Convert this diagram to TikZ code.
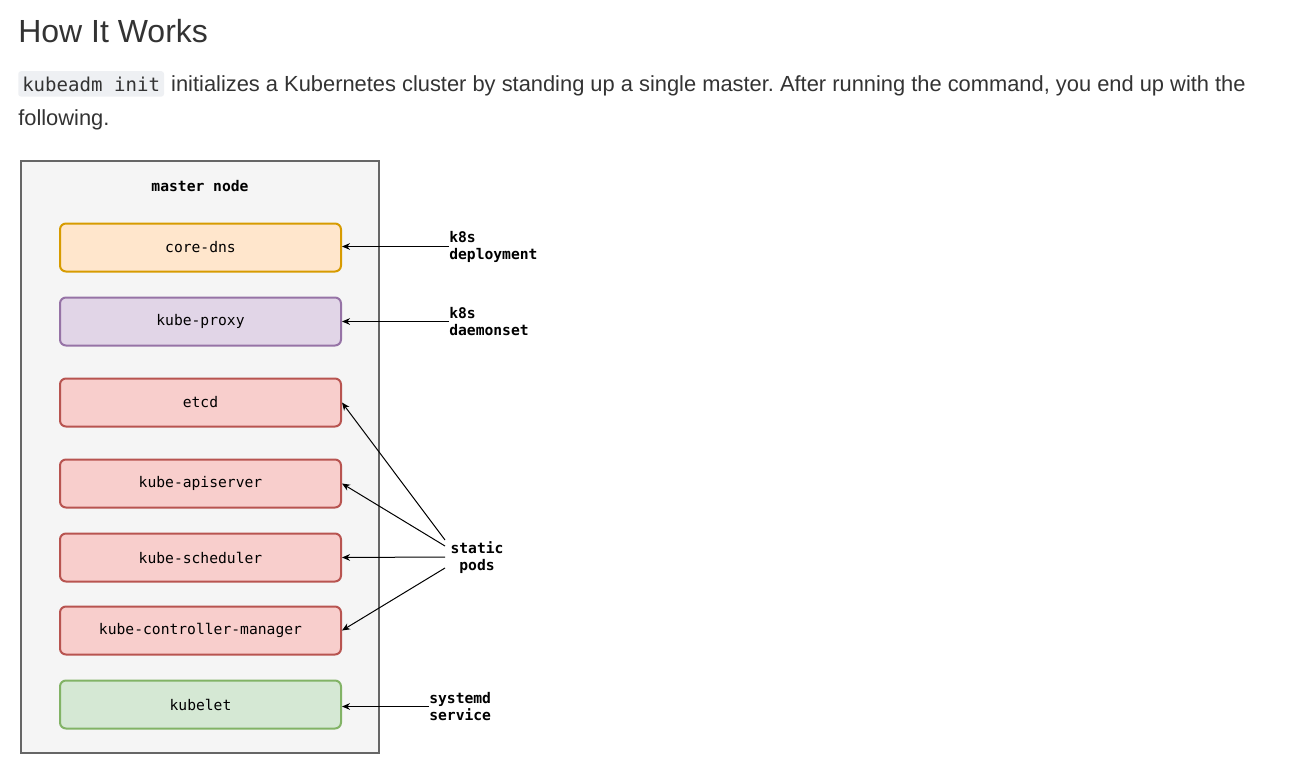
\documentclass[tikz,border=0pt]{standalone}
\usepackage{fontspec}
\setmainfont{Liberation Sans}
\setmonofont{DejaVu Sans Mono}
\usetikzlibrary{positioning,arrows.meta}
\frenchspacing

\definecolor{txt}{HTML}{333333}
\definecolor{codebg}{HTML}{EEF0F3}
\definecolor{hostfill}{HTML}{F5F5F5}
\definecolor{hostdraw}{HTML}{666666}
\definecolor{dnsfill}{HTML}{FFE6CC}
\definecolor{dnsdraw}{HTML}{D79B00}
\definecolor{proxyfill}{HTML}{E1D5E7}
\definecolor{proxydraw}{HTML}{9673A6}
\definecolor{podfill}{HTML}{F8CECC}
\definecolor{poddraw}{HTML}{B85450}
\definecolor{letfill}{HTML}{D5E8D4}
\definecolor{letdraw}{HTML}{82B366}

\tikzset{
  comp/.style={draw, rounded corners=4.5pt, line width=1.5pt,
    minimum width=210.75pt, minimum height=36pt,
    font=\fontsize{11}{13}\selectfont\ttfamily},
  lbl/.style={align=left, inner sep=0pt,
    font=\fontsize{11}{12.75}\selectfont\ttfamily\bfseries},
  feed/.style={-{Stealth[length=6pt,width=5pt]}, line width=0.75pt},
}

\begin{document}
\begin{tikzpicture}[x=0.75pt,y=-0.75pt]
  \useasboundingbox (0,0) rectangle (1293,782);
  % page text
  \node[anchor=base west, inner sep=0pt, text=txt, font=\fontsize{24}{28}\selectfont] (title) at (18,42) {How It Works};
  \node[anchor=base west, fill=codebg, rounded corners=2pt, inner xsep=3pt, inner ysep=4pt, text=txt,
    font=\fontsize{14.3}{17}\selectfont\ttfamily] (cmd) at (18,91) {kubeadm init};
  \node[anchor=base west, inner sep=0pt, text=txt, font=\fontsize{16.4}{19}\selectfont] (para)
    at ([xshift=5pt]cmd.base east) {initializes a Kubernetes cluster by standing up a single master. After running the command, you end up with the};
  \node[anchor=base west, inner sep=0pt, text=txt, font=\fontsize{16.4}{19}\selectfont] (para2)
    at (18,125) {following.};

  % master node
  \node[draw=hostdraw, fill=hostfill, line width=1.5pt, minimum width=268.5pt, minimum height=444pt] (master) at (200,457) {};
  \node[lbl, align=center] (mlabel) at (200,186) {master node};

  \node[comp, fill=dnsfill, draw=dnsdraw] (dns) at (200.5,247.5) {core-dns};
  \node[comp, fill=proxyfill, draw=proxydraw, below=18pt of dns] (proxy) {kube-proxy};
  \node[comp, fill=podfill, draw=poddraw, below=23.25pt of proxy] (etcd) {etcd};
  \node[comp, fill=podfill, draw=poddraw, below=23.25pt of etcd] (api) {kube-apiserver};
  \node[comp, fill=podfill, draw=poddraw, below=18pt of api] (sched) {kube-scheduler};
  \node[comp, fill=podfill, draw=poddraw, below=17.25pt of sched] (cm) {kube-controller-manager};
  \node[comp, fill=letfill, draw=letdraw, below=18pt of cm] (kubelet) {kubelet};

  % sources
  \node[lbl, anchor=west] (deploy) at (449,246.5) {k8s\\deployment};
  \node[lbl, anchor=west] (daemon) at (449,321.5) {k8s\\daemonset};
  \node[lbl, align=center] (static) at (477,558) {static\\pods};
  \node[lbl, anchor=west] (systemd) at (429,706.5) {systemd\\service};

  \coordinate (s1) at (445,540);
  \coordinate (s2) at (445,546);
  \coordinate (s3) at (445,557);
  \coordinate (s4) at (445,568);

  \draw[feed] (deploy.west) -- (deploy.west -| dns.east);
  \draw[feed] (daemon.west) -- (daemon.west -| proxy.east);
  \draw[feed] (s1) -- (etcd.east);
  \draw[feed] (s2) -- (api.east);
  \draw[feed] (s3) -- (sched.east);
  \draw[feed] (s4) -- (cm.east);
  \draw[feed] (systemd.west) -- (systemd.west -| kubelet.east);
\end{tikzpicture}
\end{document}
